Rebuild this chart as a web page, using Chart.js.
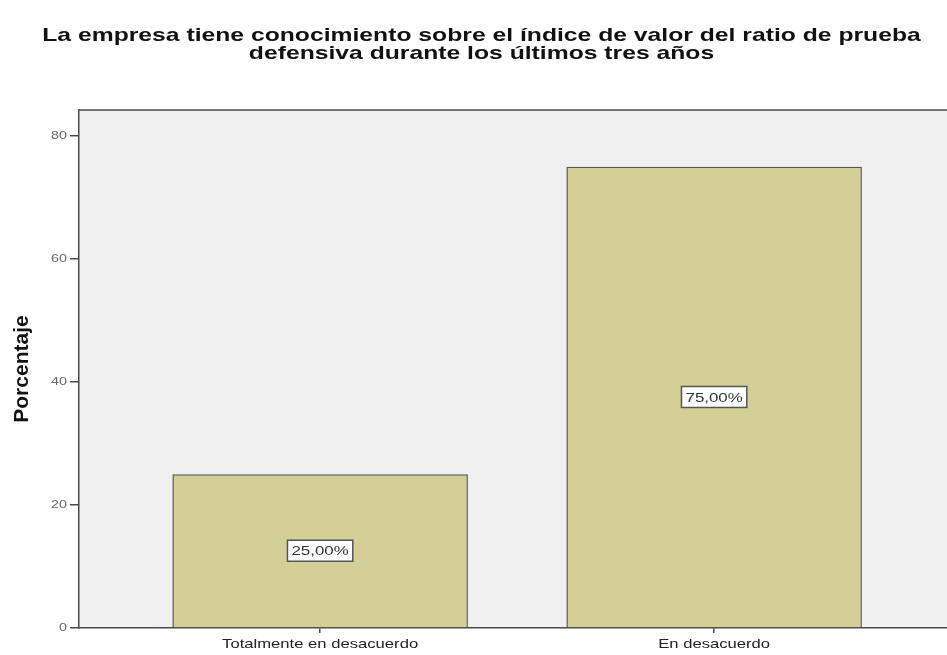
<!DOCTYPE html>
<html lang="es">
<head>
  <meta charset="UTF-8" />
  <title>Ratio de prueba defensiva</title>
  <style>
    html, body {
      margin: 0;
      padding: 0;
      background: #ffffff;
    }
    #wrap {
      width: 947px;
      height: 655px;
    }
  </style>
</head>
<body>
  <div id="wrap">
    <canvas id="barChart" width="947" height="655"></canvas>
  </div>

  <script src="https://cdn.jsdelivr.net/npm/chart.js"></script>
  <script>
    // data
    const categories = ['Totalmente en desacuerdo', 'En desacuerdo'];
    const percentages = [25, 75];
    const barLabels = ['25,00%', '75,00%'];
    const yTicks = [0, 20, 40, 60, 80];
    const titleLines = [
      'La empresa tiene conocimiento sobre el índice de valor del ratio de prueba',
      'defensiva durante los últimos tres años'
    ];

    const FONT = "'Liberation Sans', Arial, sans-serif";
    const AXIS = '#4a4a4a';
    const STRETCH = 1.3; // the original picture is wider than tall, text looks stretched

    // stretch horizontal text around its anchor point (rotated text left as is)
    const wideText = {
      id: 'wideText',
      beforeInit(chart) {
        const c = chart.ctx;
        const orig = c.fillText;
        c.fillText = function (t, x, y, mw) {
          const m = this.getTransform();
          if (Math.abs(m.b) > 0.001) return orig.call(this, t, x, y);
          this.save();
          this.translate(x, y);
          this.scale(STRETCH, 1);
          orig.call(this, t, 0, 0);
          this.restore();
        };
      }
    };

    // grey plot background + top border
    const plotFrame = {
      id: 'plotFrame',
      beforeDraw(chart) {
        const { ctx, chartArea: a } = chart;
        ctx.save();
        ctx.fillStyle = '#f0f0f0';
        ctx.fillRect(a.left, a.top, a.right - a.left, a.bottom - a.top);
        ctx.strokeStyle = AXIS;
        ctx.lineWidth = 1.5;
        ctx.beginPath();
        ctx.moveTo(a.left, a.top);
        ctx.lineTo(a.right, a.top);
        ctx.stroke();
        ctx.restore();
      }
    };

    // boxed value labels in the middle of each bar
    const boxLabels = {
      id: 'boxLabels',
      afterDatasetsDraw(chart) {
        const { ctx } = chart;
        const meta = chart.getDatasetMeta(0);
        ctx.save();
        ctx.font = '13px ' + FONT;
        ctx.textAlign = 'center';
        ctx.textBaseline = 'middle';
        meta.data.forEach((bar, i) => {
          const txt = barLabels[i];
          const cx = bar.x;
          const cy = (bar.y + bar.base) / 2;
          const w = ctx.measureText(txt).width * STRETCH + 8;
          const h = 21;
          ctx.fillStyle = '#ffffff';
          ctx.fillRect(cx - w / 2, cy - h / 2, w, h);
          ctx.strokeStyle = '#555555';
          ctx.lineWidth = 1.5;
          ctx.strokeRect(cx - w / 2, cy - h / 2, w, h);
          ctx.fillStyle = '#333333';
          ctx.fillText(txt, cx, cy + 1);
        });
        ctx.restore();
      }
    };

    const ctx = document.getElementById('barChart').getContext('2d');
    new Chart(ctx, {
      type: 'bar',
      data: {
        datasets: [{
          label: 'Porcentaje',
          data: percentages.map((v, i) => ({ x: i, y: v })),
          backgroundColor: '#d3cf97',
          borderColor: '#555555',
          borderWidth: 1.5,
          barPercentage: 0.75,
          categoryPercentage: 1.0
        }]
      },
      options: {
        responsive: false,
        animation: false,
        layout: { padding: { left: 16, right: 0, top: 0, bottom: 0 } },
        plugins: {
          legend: { display: false },
          tooltip: { enabled: false },
          title: {
            display: true,
            text: titleLines,
            color: '#111111',
            font: { family: FONT, size: 19, weight: 'bold', lineHeight: 0.95 },
            padding: { top: 27, bottom: 47 }
          }
        },
        scales: {
          x: {
            type: 'linear',
            offset: false,
            min: -0.612,
            max: 1.591,
            afterBuildTicks(scale) {
              scale.ticks = categories.map((c, i) => ({ value: i }));
            },
            afterFit(scale) { scale.height = 27; },
            border: { display: true, color: AXIS, width: 1.5 },
            grid: { offset: false, drawOnChartArea: false, color: AXIS, tickLength: 5, lineWidth: 1.5 },
            ticks: {
              padding: 4,
              color: '#222222',
              font: { family: FONT, size: 12.8 },
              maxRotation: 0,
              autoSkip: false,
              callback: (v) => categories[v] ?? ''
            }
          },
          y: {
            min: 0,
            max: 84.2,
            afterBuildTicks(scale) {
              scale.ticks = yTicks.map(v => ({ value: v }));
            },
            afterFit(scale) { scale.width = 63; },
            border: { display: true, color: AXIS, width: 1.5 },
            grid: { drawOnChartArea: false, color: AXIS, tickLength: 9, lineWidth: 1.5 },
            ticks: {
              padding: 3,
              color: '#666666',
              font: { family: FONT, size: 11 }
            },
            title: {
              display: true,
              text: 'Porcentaje',
              color: '#111111',
              font: { family: FONT, size: 21, weight: 'bold', lineHeight: 0.8 },
              padding: { top: -2, bottom: 0 }
            }
          }
        }
      },
      plugins: [wideText, plotFrame, boxLabels]
    });
  </script>
</body>
</html>
